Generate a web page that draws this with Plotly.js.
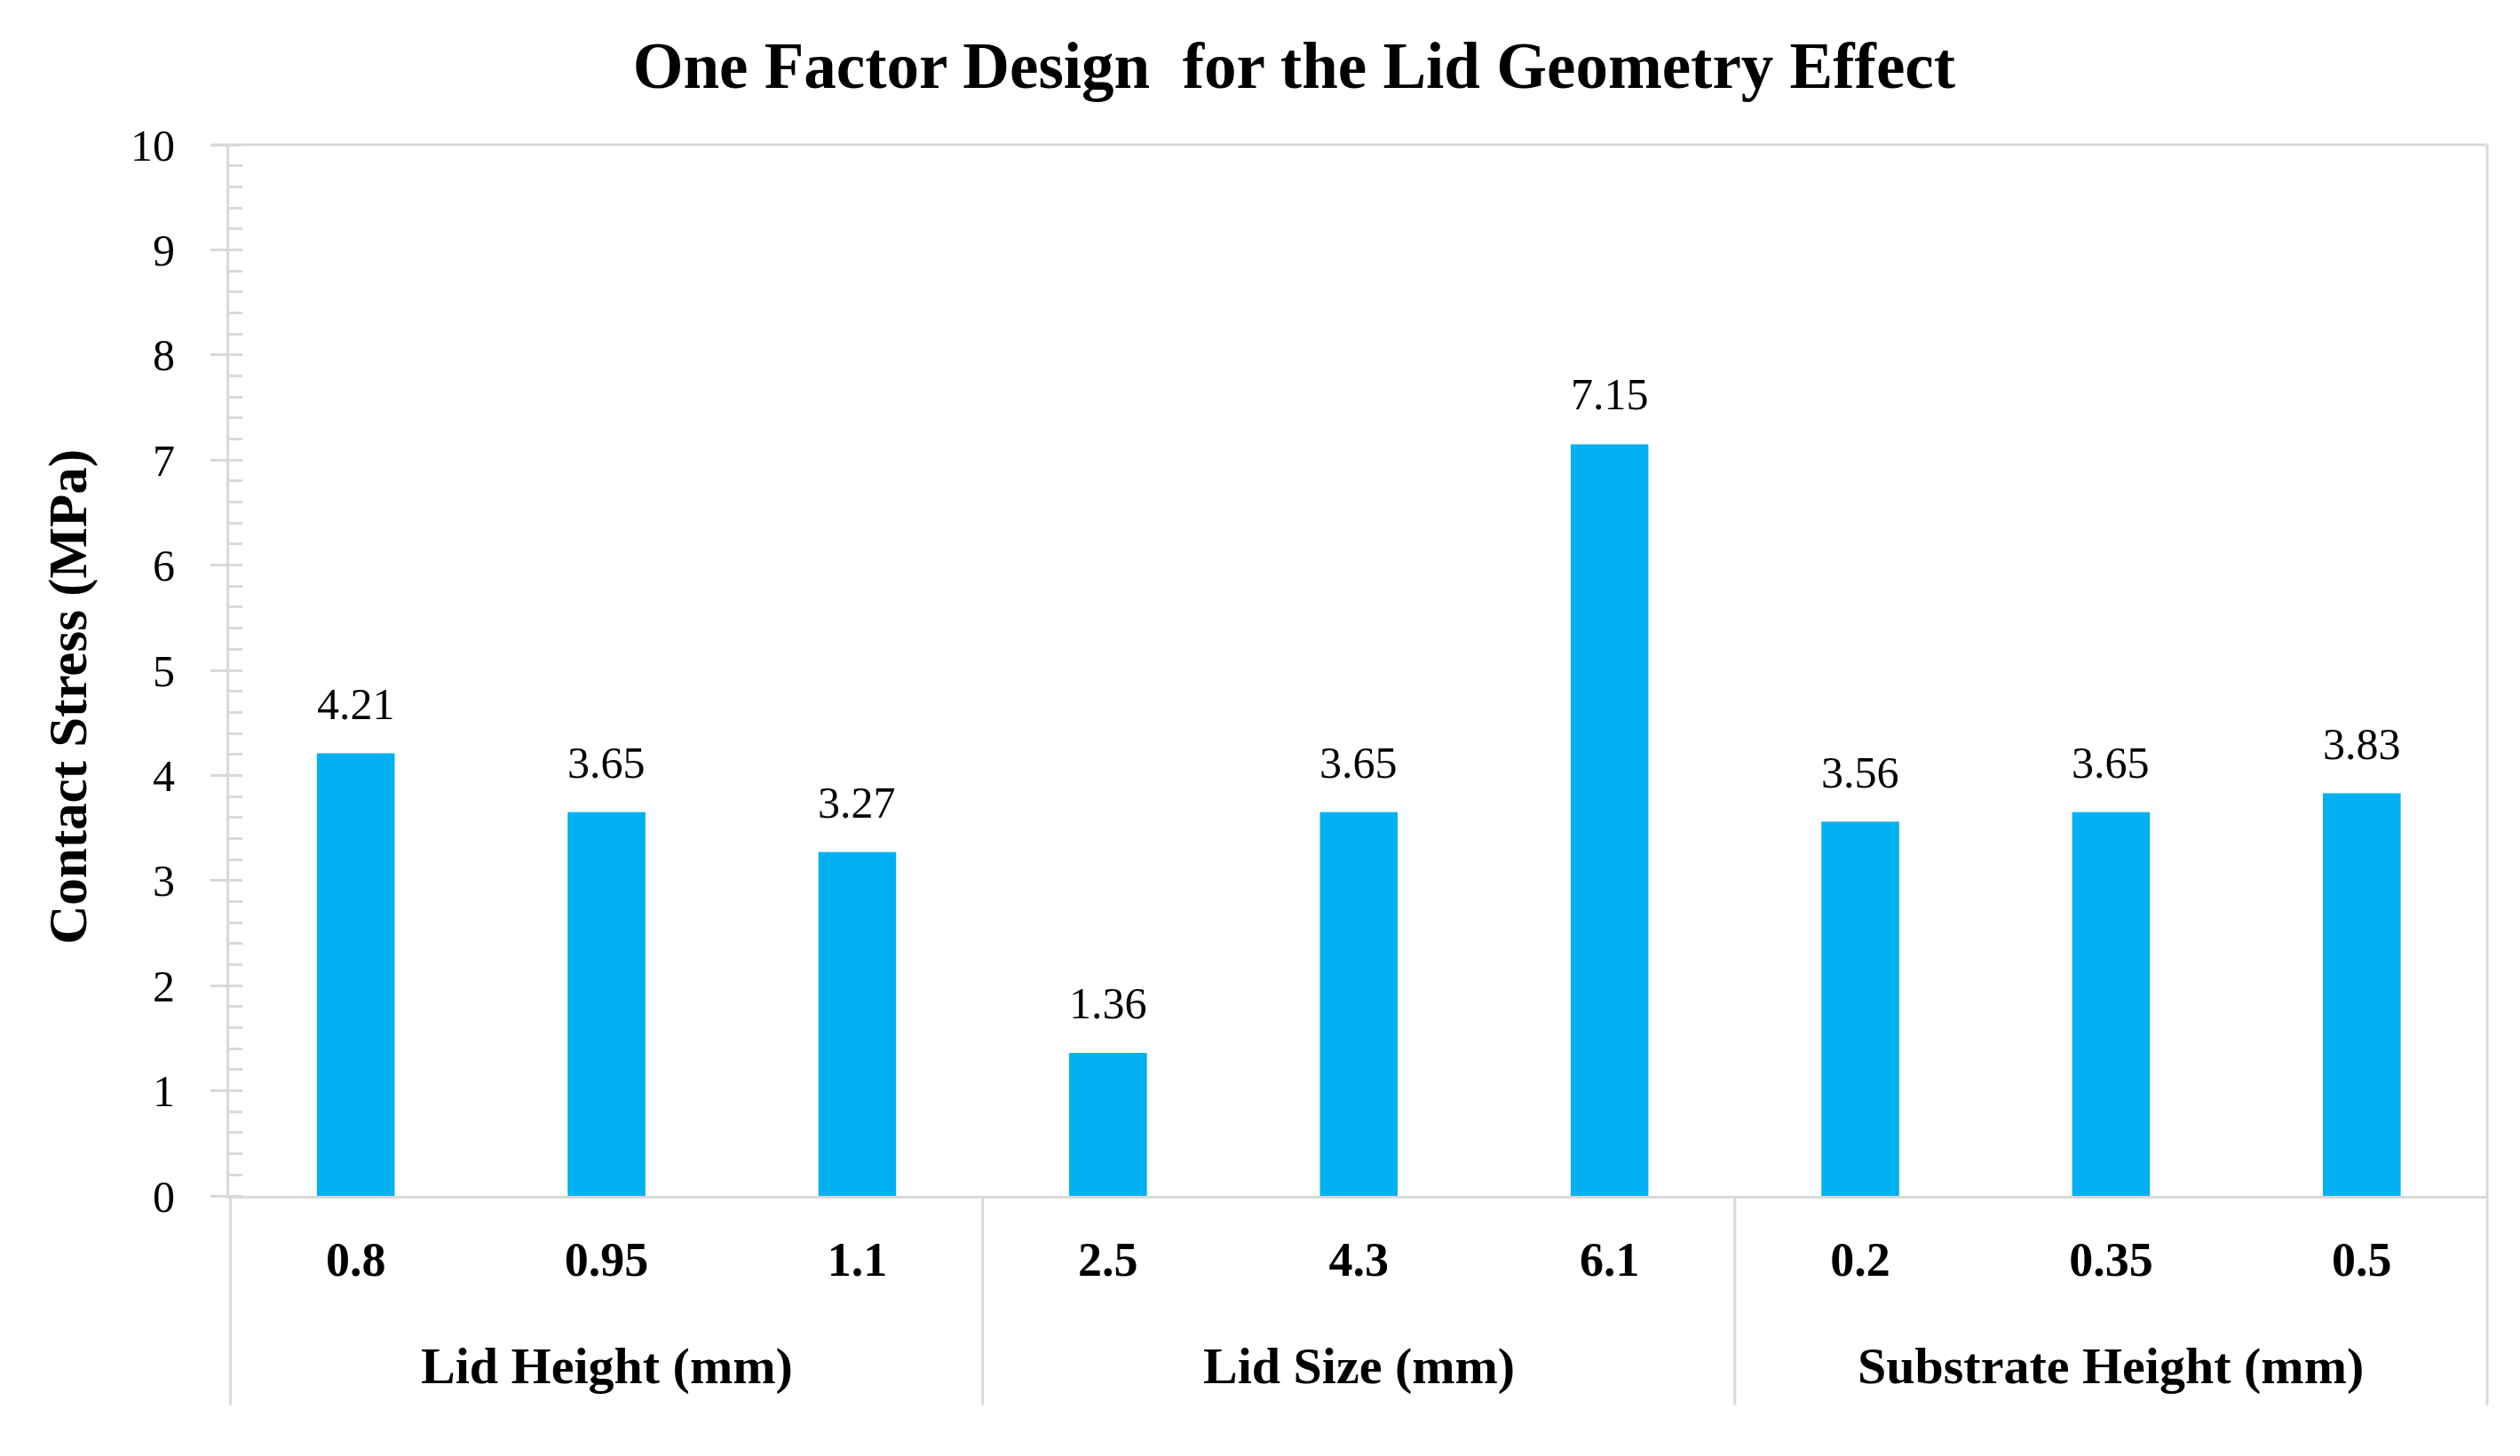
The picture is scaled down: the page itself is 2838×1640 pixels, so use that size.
<!DOCTYPE html>
<html>
<head>
<meta charset="utf-8">
<script src="https://cdn.plot.ly/plotly-3.0.1.min.js"></script>
<style>
  html, body { margin: 0; padding: 0; background: #ffffff; }
  #chart { width: 2838px; height: 1640px; }
</style>
</head>
<body>
<div id="chart"></div>
<script>
// ── Datos ────────────────────────────────────────────────
const groups     = ['Lid Height (mm)', 'Lid Size (mm)', 'Substrate Height (mm)'];
const lidHeight  = ['0.8', '0.95', '1.1'];
const lidSize    = ['2.5', '4.3', '6.1'];
const subHeight  = ['0.2', '0.35', '0.5'];
const levels     = [lidHeight, lidSize, subHeight];
const stress     = [4.21, 3.65, 3.27, 1.36, 3.65, 7.15, 3.56, 3.65, 3.83];

const FONT   = 'Palatino Linotype, Book Antiqua, Palatino, Liberation Serif, serif';
const GRID   = '#d9d9d9';
const BAR    = '#00b0f0';
const LOW    = -0.199;   // bottom of the category box, paper units

const cats = levels.flat();

const trace = {
  type: 'bar',
  x: cats,
  y: stress,
  marker: { color: BAR, line: { width: 0 } },
  hoverinfo: 'x+y'
};

// etiquetas de valor encima de cada barra (x por índice de categoría)
const valueNotes = cats.map((c, i) => ({
  x: i, y: stress[i], xref: 'x', yref: 'y',
  text: stress[i].toFixed(2), showarrow: false,
  yanchor: 'bottom', yshift: 26,
  font: { family: FONT, size: 50, color: '#000' }
}));

// etiquetas de grupo y divisores
const groupNotes = [];
const shapes = [];
let start = 0;
levels.forEach((lv, g) => {
  const mid = start + (lv.length - 1) / 2;
  groupNotes.push({
    x: mid, y: -0.162, xref: 'x', yref: 'paper',
    text: '<b>' + groups[g] + '</b>', showarrow: false,
    yanchor: 'middle',
    font: { family: FONT, size: 58, color: '#000' }
  });
  shapes.push({
    type: 'line', xref: 'x', yref: 'paper',
    x0: start - 0.5, x1: start - 0.5, y0: 0, y1: LOW,
    line: { color: GRID, width: 3 }
  });
  start += lv.length;
});
// borde derecho y superior
shapes.push({
  type: 'line', xref: 'paper', yref: 'paper',
  x0: 1, x1: 1, y0: 1, y1: LOW,
  line: { color: GRID, width: 3 }
});
shapes.push({
  type: 'line', xref: 'paper', yref: 'paper',
  x0: -0.007, x1: 1, y0: 1, y1: 1,
  line: { color: GRID, width: 3 }
});

const yTitle = {
  x: -0.0715, y: 0.475, xref: 'paper', yref: 'paper',
  text: '<b>Contact Stress (MPa)</b>', showarrow: false,
  textangle: -90, xanchor: 'center', yanchor: 'middle',
  font: { family: FONT, size: 61, color: '#000' }
};

const layout = {
  width: 2838,
  height: 1640,
  paper_bgcolor: '#ffffff',
  plot_bgcolor:  '#ffffff',
  font: { family: FONT, color: '#000' },
  margin: { l: 258, r: 37, t: 163, b: 293 },
  title: {
    text: '<b>One Factor Design  for the Lid Geometry Effect</b>',
    x: 0.5135, xref: 'container', xanchor: 'center',
    y: 0.955, yref: 'container', yanchor: 'middle',
    font: { family: FONT, size: 73, color: '#000' }
  },
  bargap: 0.69,
  showlegend: false,
  xaxis: {
    type: 'category',
    showline: true, linecolor: GRID, linewidth: 3,
    showgrid: false, zeroline: false,
    ticks: '', ticklabelstandoff: 22,
    tickfont: { family: FONT, size: 54, color: '#000', weight: 'bold' }
  },
  yaxis: {
    range: [0, 10], dtick: 1,
    showline: true, linecolor: GRID, linewidth: 3,
    showgrid: false, zeroline: false,
    ticks: 'outside', ticklen: 18, tickwidth: 3, tickcolor: GRID,
    ticklabelstandoff: 30,
    tickfont: { family: FONT, size: 50, color: '#000' },
    minor: { dtick: 0.2, ticks: 'inside', ticklen: 15, tickwidth: 3, tickcolor: GRID }
  },
  shapes: shapes,
  annotations: valueNotes.concat(groupNotes, [yTitle])
};

Plotly.newPlot('chart', [trace], layout, { displayModeBar: false, staticPlot: true });
</script>
</body>
</html>
